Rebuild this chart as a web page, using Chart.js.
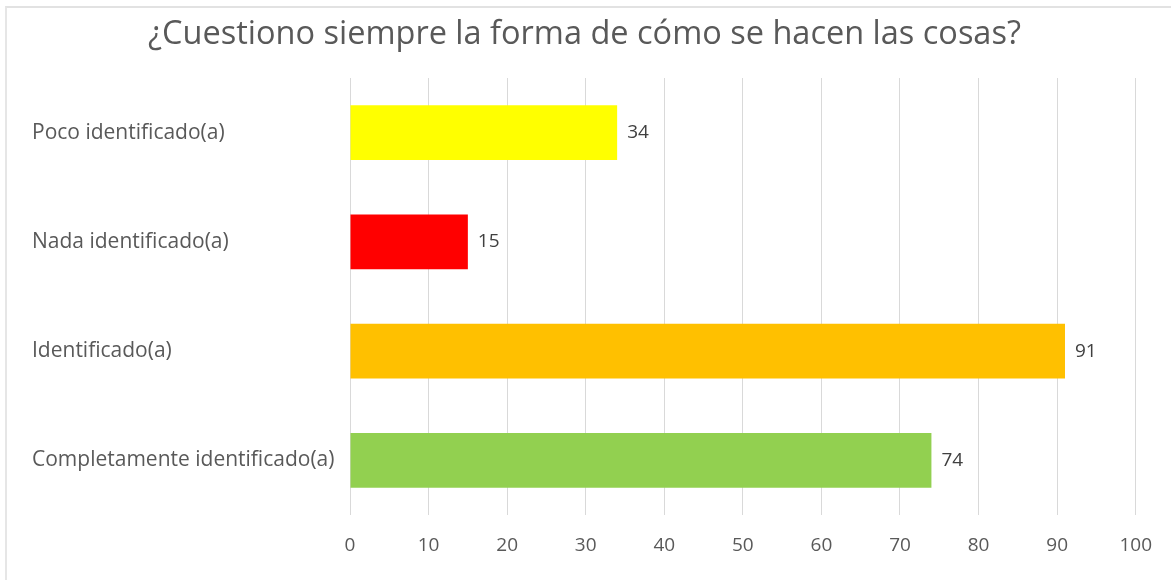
<!DOCTYPE html>
<html>
<head>
<meta charset="utf-8">
<script src="https://cdn.jsdelivr.net/npm/chart.js@4.4.0/dist/chart.umd.min.js"></script>
<style>
  body { margin: 0; background: #fff; }
  #wrap { position: relative; width: 1171px; height: 580px; overflow: hidden; }
  #frame { position: absolute; left: 5px; top: 6px; right: -10px; bottom: -10px;
           border-top: 2px solid #e2e2e2; border-left: 2px solid #e6e6e6; }
  canvas { position: absolute; left: 0; top: 0; }
</style>
</head>
<body>
<div id="wrap">
  <div id="frame"></div>
  <canvas id="chart" width="1171" height="580"></canvas>
</div>
<script>
// Chart data
const categories = ['Poco identificado(a)', 'Nada identificado(a)', 'Identificado(a)', 'Completamente identificado(a)'];
const values = [34, 15, 91, 74];
const barColors = ['#FFFF00', '#FF0000', '#FFC000', '#92D050'];
const chartTitle = '¿Cuestiono siempre la forma de cómo se hacen las cosas?';

const FONT = "'Open Sans', sans-serif";

// Value labels at the end of each bar
const valueLabels = {
    id: 'valueLabels',
    afterDatasetsDraw(chart) {
        const ctx = chart.ctx;
        const meta = chart.getDatasetMeta(0);
        ctx.save();
        ctx.font = '19px ' + FONT;
        ctx.fillStyle = '#404040';
        ctx.textAlign = 'left';
        ctx.textBaseline = 'middle';
        meta.data.forEach((bar, i) => {
            ctx.fillText(String(values[i]), bar.x + 10, bar.y);
        });
        ctx.restore();
    }
};

new Chart(document.getElementById('chart'), {
    type: 'bar',
    data: {
        labels: categories,
        datasets: [{
            data: values,
            backgroundColor: barColors,
            borderWidth: 0,
            categoryPercentage: 1,
            barPercentage: 0.5
        }]
    },
    options: {
        indexAxis: 'y',
        responsive: false,
        animation: false,
        layout: { padding: { left: 32, right: 34, top: 0, bottom: 0 } },
        plugins: {
            legend: { display: false },
            tooltip: { enabled: false },
            title: {
                display: true,
                text: chartTitle,
                color: '#595959',
                font: { family: FONT, size: 32.5, weight: 'normal' },
                padding: { top: 15, bottom: 24 }
            }
        },
        scales: {
            x: {
                min: 0,
                max: 100,
                ticks: {
                    stepSize: 10,
                    color: '#595959',
                    font: { family: FONT, size: 19 },
                    padding: 19
                },
                grid: { color: '#d9d9d9', lineWidth: 1, drawTicks: false },
                border: { display: false },
                afterFit(scale) { scale.height = 65; }
            },
            y: {
                ticks: {
                    color: '#595959',
                    font: { family: FONT, size: 21 },
                    crossAlign: 'far'
                },
                grid: { display: false },
                border: { display: false },
                afterFit(scale) { scale.width = 318; }
            }
        }
    },
    plugins: [valueLabels]
});
</script>
</body>
</html>
